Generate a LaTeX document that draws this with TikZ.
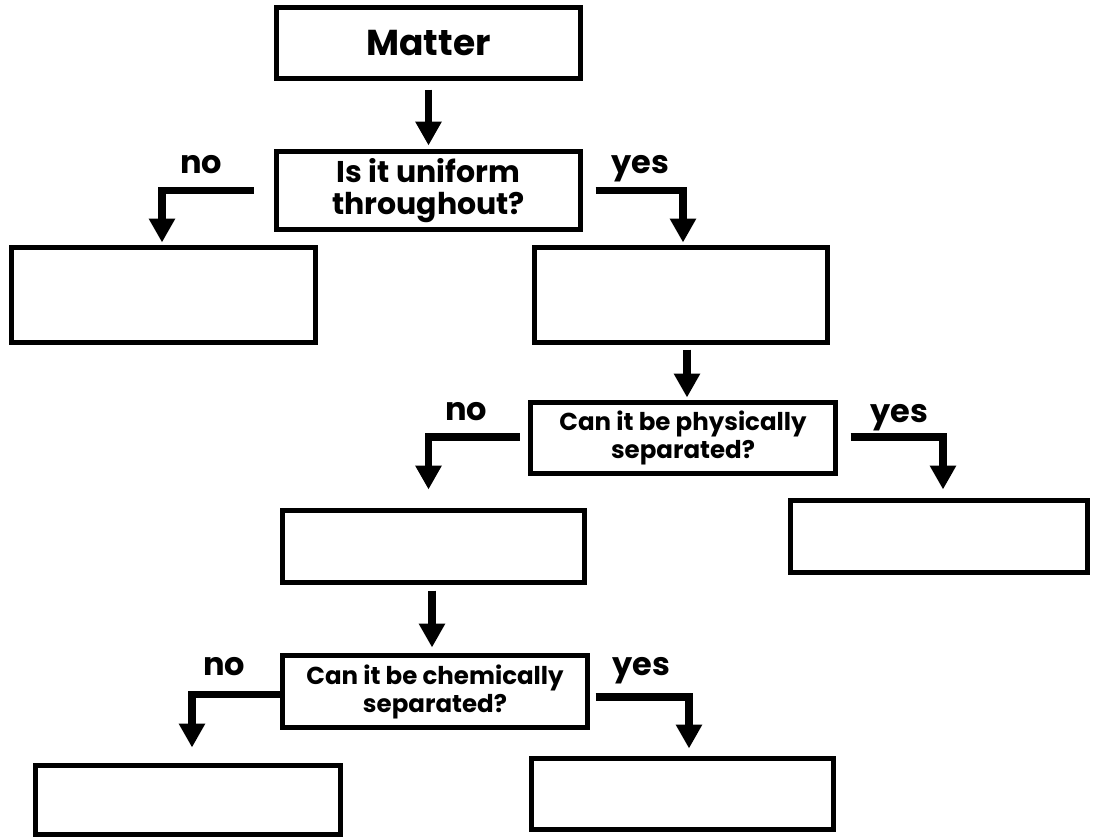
\documentclass[tikz,border=0pt]{standalone}
\usepackage{fontspec}
\setmainfont{Poppins}
\usetikzlibrary{arrows.meta}
\tikzset{
  box/.style={draw=black, line width=5pt, rectangle, inner sep=0pt, outer sep=0pt, align=center, fill=white},
  qone/.style={font=\fontsize{30}{32}\selectfont\bfseries},
  qtwo/.style={font=\fontsize{24.5}{28}\selectfont\bfseries},
  lbl/.style={font=\fontsize{32}{34}\selectfont\bfseries, inner sep=0pt, anchor=base},
  flow/.style={line width=7.5pt, line join=miter, -{Triangle[width=25pt,length=24pt]}}
}
\begin{document}
\begin{tikzpicture}[x=1pt,y=-1pt]
\useasboundingbox (0,0) rectangle (1094,839);
% boxes
\node[box, minimum width=304pt, minimum height=71pt, font=\fontsize{36}{38}\selectfont\bfseries] (matter) at (428.5,43) {Matter};
\node[box, qone, minimum width=304pt, minimum height=78pt] (q1) at (428.5,190.5) {Is it uniform\\throughout?};
\node[box, minimum width=304pt, minimum height=95pt] (l1) at (163.5,295) {};
\node[box, minimum width=293pt, minimum height=95pt] (r1) at (681,295) {};
\node[box, qtwo, minimum width=305pt, minimum height=71pt] (q2) at (683,438) {Can it be physically\\separated?};
\node[box, minimum width=297pt, minimum height=72pt] (r2) at (939,536.5) {};
\node[box, minimum width=302pt, minimum height=72pt] (m2) at (433.5,546.5) {};
\node[box, qtwo, minimum width=305pt, minimum height=72pt] (q3) at (435,691.5) {Can it be chemically\\separated?};
\node[box, minimum width=305pt, minimum height=69pt] (b1) at (188,800) {};
\node[box, minimum width=302pt, minimum height=71pt] (b2) at (682.5,794) {};
% labels
\node[lbl] (n1) at (201,173) {no};
\node[lbl] (y1) at (640,173) {yes};
\node[lbl] (n2) at (466,420) {no};
\node[lbl] (y2) at (899,422) {yes};
\node[lbl] (n3) at (224,675) {no};
\node[lbl] (y3) at (641,675) {yes};
% connectors
\draw[flow, shorten <=11pt, shorten >=6pt] (matter.south) -- (q1.north);
\draw[flow, shorten <=23pt, shorten >=5pt] (q1.west) -| ([xshift=-1.5pt]l1.north);
\draw[flow, shorten <=15pt, shorten >=5pt] (q1.east) -| ([xshift=2pt]r1.north);
\draw[flow, shorten <=7pt, shorten >=5pt] ([xshift=6pt]r1.south) -- ([xshift=6pt]r1.south |- q2.north);
\draw[flow, shorten <=11pt, shorten >=21pt] ([yshift=1pt]q2.west) -| ([xshift=-5pt]m2.north);
\draw[flow, shorten <=15pt, shorten >=11pt] ([yshift=1pt]q2.east) -| ([xshift=4pt]r2.north);
\draw[flow, shorten <=8pt, shorten >=8pt] ([xshift=-1.5pt]m2.south) -- ([xshift=-1.5pt]m2.south |- q3.north);
\draw[flow, shorten <=3pt, shorten >=18pt] ([yshift=-3pt]q3.west) -| ([xshift=4pt]b1.north);
\draw[flow, shorten <=8pt, shorten >=10pt] ([yshift=-5.5pt]q3.east) -| ([xshift=6.5pt]b2.north);
\end{tikzpicture}
\end{document}
